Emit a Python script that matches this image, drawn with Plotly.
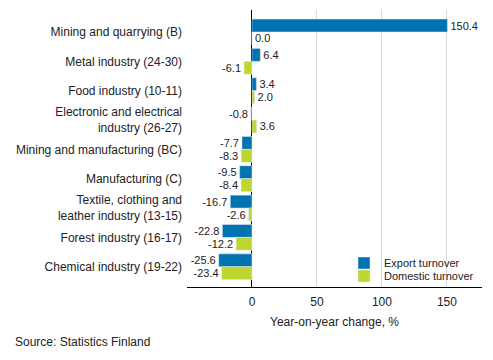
import plotly.graph_objects as go

categories = [
    "Mining and quarrying (B)",
    "Metal industry (24-30)",
    "Food industry (10-11)",
    "Electronic and electrical<br>industry (26-27)",
    "Mining and manufacturing (BC)",
    "Manufacturing (C)",
    "Textile, clothing and<br>leather industry (13-15)",
    "Forest industry (16-17)",
    "Chemical industry (19-22)",
]
export_turnover = [150.4, 6.4, 3.4, -0.8, -7.7, -9.5, -16.7, -22.8, -25.6]
domestic_turnover = [0.0, -6.1, 2.0, 3.6, -8.3, -8.4, -2.6, -12.2, -23.4]
x_ticks = [0, 50, 100, 150]

BLUE = "#0073b0"
GREEN = "#bed62f"
FONT = "Liberation Sans, Arial, sans-serif"

# page has an 8px body margin; work in page coordinates and subtract it
O = 8
W, H = 493 - O, 360 - O
L = 187 - O
T = 10 - O
PLOT_RIGHT = 482 - O
PLOT_BOTTOM = 287 - O
R = W - PLOT_RIGHT
B = H - PLOT_BOTTOM
PW, PH = W - L - R, H - T - B


def px_x(page_x):
    return (page_x - O - L) / PW


def px_y(page_y):
    return 1 - (page_y - O - T) / PH


fig = go.Figure()
fig.add_trace(go.Bar(
    y=categories, x=export_turnover, name="Export turnover", orientation="h",
    marker=dict(color=BLUE), texttemplate="%{x:.1f}", textposition="outside",
    textfont=dict(size=11, color="#222"), cliponaxis=False, legend="legend",
))
fig.add_trace(go.Bar(
    y=categories, x=domestic_turnover, name="Domestic turnover", orientation="h",
    marker=dict(color=GREEN), texttemplate="%{x:.1f}", textposition="outside",
    textfont=dict(size=11, color="#222"), cliponaxis=False, legend="legend2",
))

leg_common = dict(xanchor="left", yanchor="middle", font=dict(size=11),
                  bgcolor="rgba(0,0,0,0)", itemwidth=30)
fig.update_layout(
    width=W, height=H,
    margin=dict(l=L, r=R, t=T, b=B, autoexpand=False),
    paper_bgcolor="white", plot_bgcolor="white",
    font=dict(family=FONT, size=12, color="#222"),
    barmode="group", bargap=0.12, bargroupgap=0,
    showlegend=True,
    legend=dict(x=px_x(344), y=px_y(263), **leg_common),
    legend2=dict(x=px_x(344), y=px_y(276), **leg_common),
    uniformtext=dict(minsize=11, mode="show"),
)
fig.update_xaxes(
    range=[-50, 177], tickvals=x_ticks, ticktext=[str(v) for v in x_ticks],
    showgrid=True, gridcolor="#d9d9d9", gridwidth=1,
    zeroline=True, zerolinecolor="black", zerolinewidth=1,
    showline=True, linecolor="black", linewidth=1,
    ticks="", tickfont=dict(size=12), automargin=False, ticklabelstandoff=4,
    title=dict(text="Year-on-year change, %", font=dict(size=12), standoff=9),
)
fig.update_yaxes(
    categoryorder="array", categoryarray=categories,
    range=[8.69, -0.75], showgrid=False, zeroline=False, showline=False,
    ticks="", tickfont=dict(size=12), ticklabelstandoff=4, automargin=False,
)
fig.add_annotation(
    text="Source: Statistics Finland", xref="paper", yref="paper",
    x=px_x(13), y=px_y(342), xanchor="left", yanchor="middle",
    showarrow=False, font=dict(size=12, color="#222"),
)

fig.write_html("out.html")
